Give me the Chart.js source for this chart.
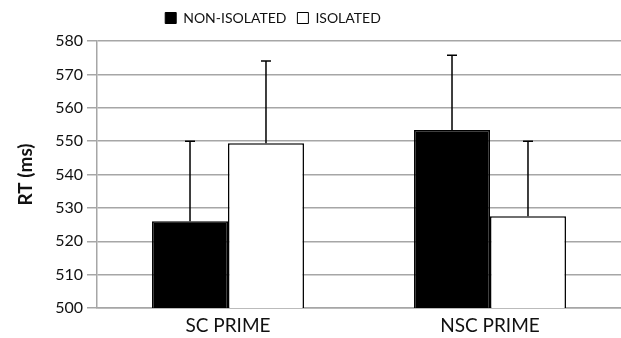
<!DOCTYPE html>
<html>
<head>
<meta charset="utf-8">
<script src="https://cdn.jsdelivr.net/npm/chart.js@4"></script>
<style>
  html, body { margin: 0; padding: 0; background: #fff; }
  #wrap { width: 621px; height: 338px; }
</style>
</head>
<body>
<div id="wrap"><canvas id="c" width="621" height="338"></canvas></div>
<script>
const categories = ['SC PRIME', 'NSC PRIME'];
const seriesNames = ['NON-ISOLATED', 'ISOLATED'];
const nonIsolated = [526, 553.3];
const isolated = [549.4, 527.5];
const nonIsolatedErr = [24, 22.4];
const isolatedErr = [24.6, 22.5];
const yTicks = [500, 510, 520, 530, 540, 550, 560, 570, 580];

const FONT = 'Lato, "Open Sans", sans-serif';
const GRID = '#a6a6a6';

const errorBars = {
  id: 'errorBars',
  afterDatasetsDraw(chart) {
    const ctx = chart.ctx;
    const y = chart.scales.y;
    chart.data.datasets.forEach((ds, i) => {
      const meta = chart.getDatasetMeta(i);
      meta.data.forEach((bar, j) => {
        const v = ds.data[j], e = ds.errors[j];
        const yTop = y.getPixelForValue(v + e);
        const yBase = y.getPixelForValue(v);
        ctx.save();
        ctx.strokeStyle = '#000';
        ctx.lineWidth = 1.5;
        ctx.beginPath();
        ctx.moveTo(bar.x, yBase);
        ctx.lineTo(bar.x, yTop);
        ctx.moveTo(bar.x - 5, yTop);
        ctx.lineTo(bar.x + 5, yTop);
        ctx.stroke();
        ctx.restore();
      });
    });
  }
};

const legendLayout = {
  id: 'legendLayout',
  beforeLayout(chart) {
    const lg = chart.legend;
    if (lg && !lg._wrappedFit) {
      const f = lg.fit.bind(lg);
      lg.fit = function () { f(); this.height = 41; };
      lg._wrappedFit = true;
    }
  },
  afterLayout(chart) {
    const lg = chart.legend;
    if (lg) { lg.right -= 75; lg.width -= 75; }
  }
};

new Chart(document.getElementById('c'), {
  type: 'bar',
  data: {
    labels: categories,
    datasets: [
      { label: seriesNames[0], data: nonIsolated, errors: nonIsolatedErr,
        backgroundColor: '#000', borderColor: '#000', borderWidth: 1.5 },
      { label: seriesNames[1], data: isolated, errors: isolatedErr,
        backgroundColor: '#fff', borderColor: '#000', borderWidth: 1.5 }
    ]
  },
  options: {
    responsive: false,
    animation: false,
    devicePixelRatio: 1,
    layout: { padding: 0 },
    datasets: { bar: { categoryPercentage: 0.58, barPercentage: 1.0 } },
    plugins: {
      tooltip: { enabled: false },
      legend: {
        position: 'top',
        labels: {
          boxWidth: 11, boxHeight: 11, padding: 11,
          color: '#111',
          font: { family: FONT, size: 14 },
          generateLabels(chart) {
            return chart.data.datasets.map((ds, i) => ({
              text: ds.label, fillStyle: ds.backgroundColor, strokeStyle: '#000',
              lineWidth: 1, hidden: false, datasetIndex: i, fontColor: '#111'
            }));
          }
        }
      }
    },
    scales: {
      x: {
        afterFit(s) { s.height = 30; },
        grid: { display: false, drawTicks: false },
        border: { display: true, color: GRID, width: 1.5 },
        ticks: { color: '#111', font: { family: FONT, size: 19 }, padding: 6 }
      },
      y: {
        min: 500, max: 580,
        afterFit(s) { s.width = 97; },
        afterBuildTicks(s) { s.ticks = yTicks.map(v => ({ value: v })); },
        grid: { color: GRID, lineWidth: 1.5, tickLength: 10, drawTicks: true },
        border: { display: true, color: GRID, width: 1.5 },
        ticks: { color: '#111', font: { family: FONT, size: 16 }, padding: 4 },
        title: { display: true, text: 'RT (ms)', color: '#111',
          font: { family: FONT, size: 19, weight: 'bold' }, padding: { top: 14, bottom: 4 } }
      }
    }
  },
  plugins: [errorBars, legendLayout]
});
</script>
</body>
</html>
